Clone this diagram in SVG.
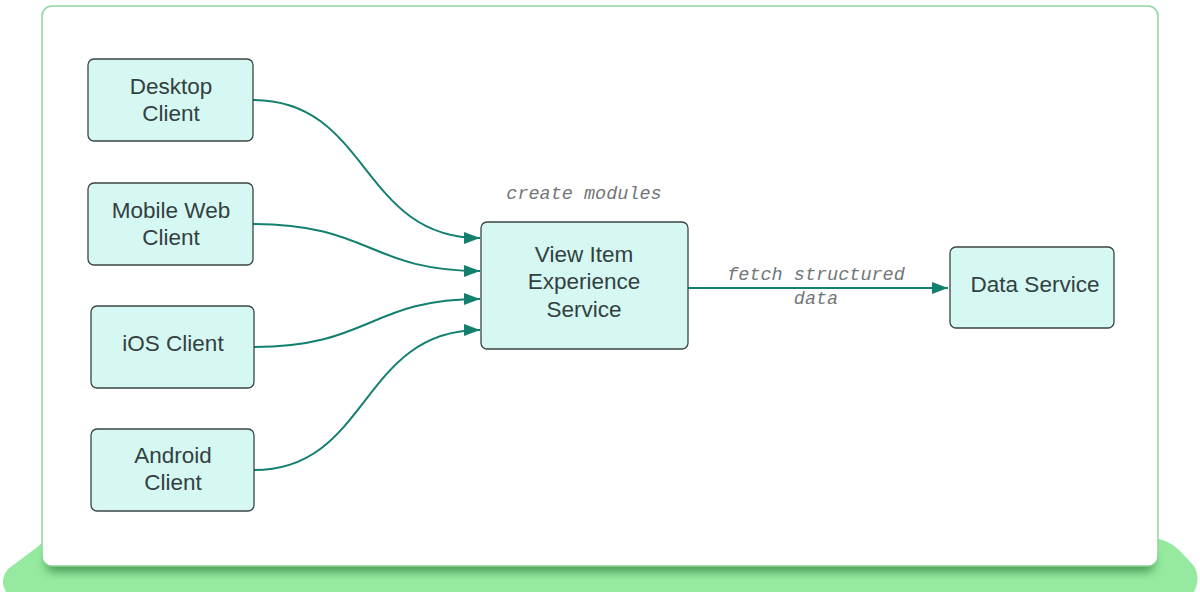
<svg xmlns="http://www.w3.org/2000/svg" width="1200" height="592" viewBox="0 0 1200 592">
<defs>
<style>
.node{fill:#d6f8f3;stroke:#3a4444;stroke-width:1.3}
.t{font-family:"Liberation Sans",Arial,sans-serif;font-size:22.5px;fill:#34403f;text-anchor:middle}
.lbl{font-family:"Liberation Mono","DejaVu Sans Mono",monospace;font-style:italic;font-size:18.5px;fill:#727678;text-anchor:middle}
.con{fill:none;stroke:#13806f;stroke-width:2}
</style>
<marker id="arr" viewBox="0 0 16 12" refX="16" refY="6" markerWidth="16" markerHeight="12" markerUnits="userSpaceOnUse" orient="auto">
<path d="M0,0 L16,6 L0,12 Z" fill="#13806f"/>
</marker>
<filter id="sh" x="-5%" y="-30%" width="110%" height="160%">
<feGaussianBlur stdDeviation="5"/>
</filter>
</defs>
<rect width="1200" height="592" fill="#ffffff"/>
<g id="background">
<path d="M62,538 L1150,538 Q1168,538 1182,553 L1194,566 Q1201,578 1194,592 L6,592 Q-1,580 8,569 L36,548 Q46,538 62,538 Z" fill="#95ea9f"/>
<rect x="46" y="550" width="1108" height="22" rx="8" fill="#2f7a3e" opacity="0.7" filter="url(#sh)"/>
<rect x="42" y="6" width="1116" height="560" rx="10" fill="#ffffff" stroke="#8dd59a" stroke-width="1.5"/>
</g>
<g id="connectors">
<path class="con" d="M253,100 C370,100 360,238 480,238" marker-end="url(#arr)"/>
<path class="con" d="M253,224 C370,224 370,271 480,271" marker-end="url(#arr)"/>
<path class="con" d="M254,347 C370,347 370,299 480,299" marker-end="url(#arr)"/>
<path class="con" d="M254,470 C370,470 360,330 480,330" marker-end="url(#arr)"/>
<path class="con" d="M688,288 L948,288" marker-end="url(#arr)"/>
<text class="lbl" x="584" y="199">create modules</text>
<text class="lbl" x="816" y="280">fetch structured</text>
<text class="lbl" x="816" y="304">data</text>
</g>
<g id="desktop">
<rect class="node" x="88" y="59" width="165" height="82" rx="6"/>
<text class="t" x="171" y="94">Desktop</text>
<text class="t" x="171" y="121">Client</text>
</g>
<g id="mobileweb">
<rect class="node" x="88" y="183" width="165" height="82" rx="6"/>
<text class="t" x="171" y="218">Mobile Web</text>
<text class="t" x="171" y="245">Client</text>
</g>
<g id="ios">
<rect class="node" x="91" y="306" width="163" height="82" rx="6"/>
<text class="t" x="173" y="351">iOS Client</text>
</g>
<g id="android">
<rect class="node" x="91" y="429" width="163" height="82" rx="6"/>
<text class="t" x="173" y="463">Android</text>
<text class="t" x="173" y="490">Client</text>
</g>
<g id="viewitem">
<rect class="node" x="481" y="222" width="207" height="127" rx="6"/>
<text class="t" x="584" y="262">View Item</text>
<text class="t" x="584" y="289">Experience</text>
<text class="t" x="584" y="317">Service</text>
</g>
<g id="dataservice">
<rect class="node" x="950" y="247" width="164" height="81" rx="6"/>
<text class="t" x="1035" y="292">Data Service</text>
</g>
</svg>
